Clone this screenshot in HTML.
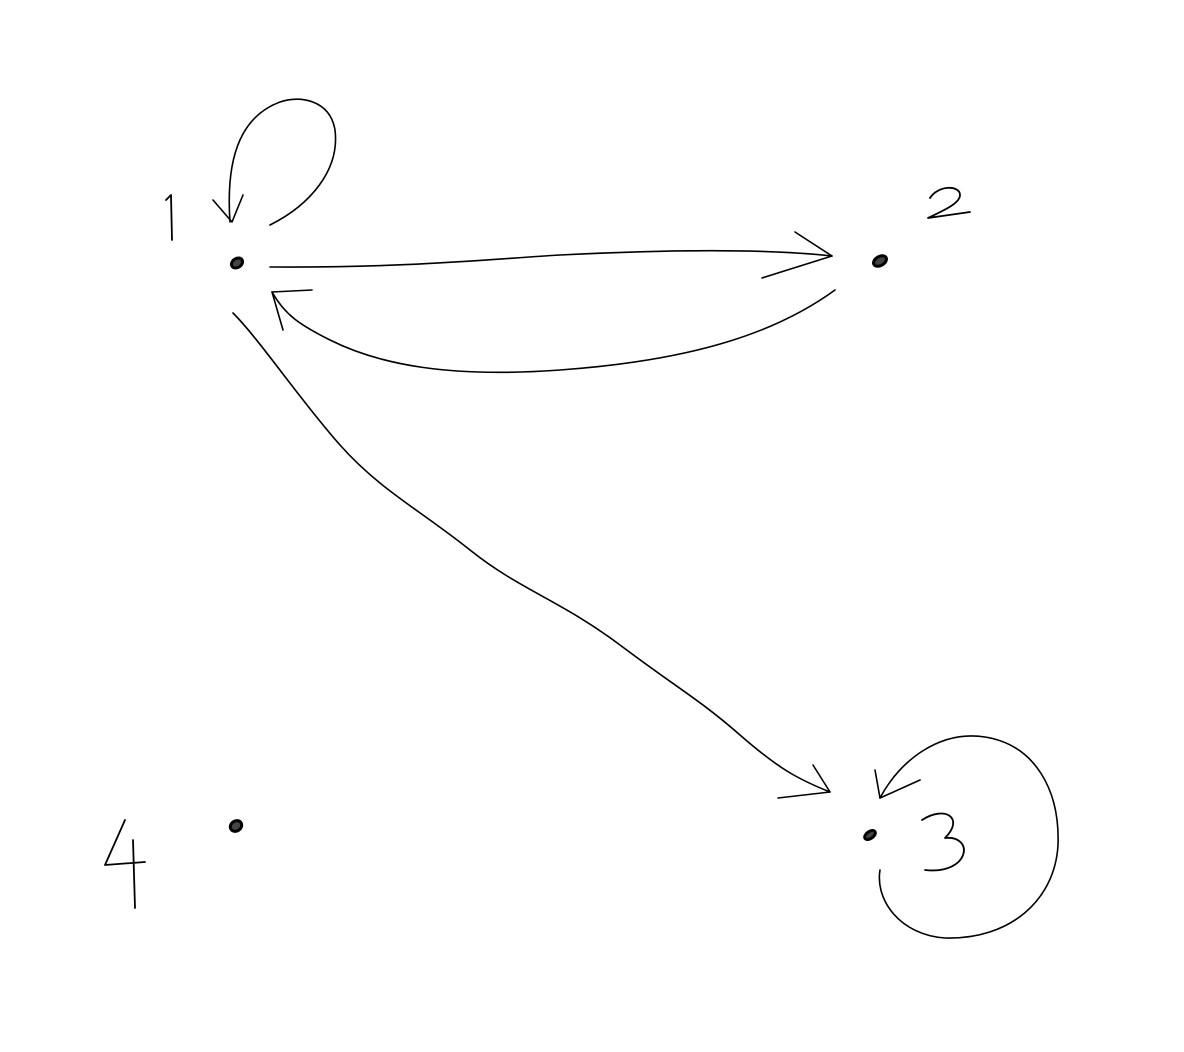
<!DOCTYPE html>
<html><head><style>
html,body{margin:0;padding:0;background:#fff;width:1184px;height:1052px;overflow:hidden}
svg{display:block}
</style></head><body>
<svg width="1184" height="1052" viewBox="0 0 1184 1052" xmlns="http://www.w3.org/2000/svg">
<g fill="none" stroke="#000" stroke-width="1.6" stroke-linecap="round" stroke-linejoin="round">
<!-- loop at 1 -->
<path d="M270 225 C310 205 340 170 335 130 C330 100 300 95 280 102 C245 115 225 150 230 222"/>
<path d="M213 200 L232 222 L243 195"/>
<!-- 1 -> 2 -->
<path d="M270 267 C400 268 480 260 560 255 C660 250 760 248 832 256"/>
<path d="M795 232 L832 256 L762 278"/>
<!-- 2 -> 1 -->
<path d="M835 290 C780 330 700 360 560 370 C450 378 380 365 330 340 C300 325 285 315 272 292"/>
<path d="M272 292 L312 290 M272 292 L283 330"/>
<!-- 1 -> 3 -->
<path d="M233 313 C260 340 300 400 340 445 C380 490 420 510 470 550 C520 590 560 600 620 645 C680 690 700 700 740 735 C780 770 800 780 830 792"/>
<path d="M813 765 L830 792 L778 798"/>
<!-- loop at 3 -->
<path d="M880 870 C875 900 900 935 945 938 C1010 940 1055 900 1058 845 C1060 790 1035 745 985 737 C940 730 900 760 880 798"/>
<path d="M875 770 L880 798 L920 780"/>
</g>
<!-- nodes -->
<g fill="#444" stroke="#000" stroke-width="3">
<ellipse cx="237" cy="263" rx="6" ry="4.5" transform="rotate(-35 237 263)"/>
<ellipse cx="880" cy="261" rx="7" ry="4.5" transform="rotate(-30 880 261)"/>
<ellipse cx="870" cy="835" rx="6" ry="3.5" transform="rotate(-35 870 835)"/>
<ellipse cx="236" cy="826" rx="6" ry="5" transform="rotate(-35 236 826)"/>
</g>
<!-- labels -->
<g fill="none" stroke="#000" stroke-width="1.8" stroke-linecap="round" stroke-linejoin="round">
<path d="M166 200 L171 195 L172 240"/>
<path d="M930 198 C938 185 960 185 960 195 C960 203 945 210 928 218 L970 212"/>
<path d="M922 820 C945 805 965 818 945 838 C975 835 970 875 925 870"/>
<path d="M125 820 L105 865 L145 862 M133 840 L135 908"/>
</g>
</svg>
</body></html>
